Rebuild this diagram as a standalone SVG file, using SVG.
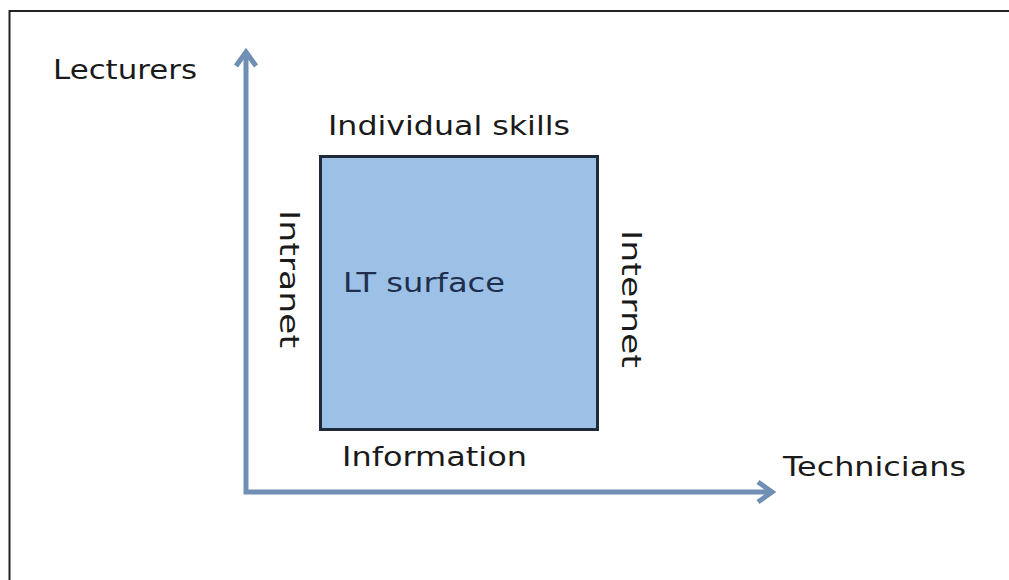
<svg xmlns="http://www.w3.org/2000/svg" width="1009" height="580" viewBox="0 0 1009 580">
<style>
.t{font-family:"DejaVu Sans","Verdana",sans-serif;font-size:26px;fill:#1a1a1a;}
.ax{stroke:#6f8fb5;stroke-width:5;fill:none;stroke-linecap:butt}
.ah{stroke:#6f8fb5;stroke-width:5;fill:none;stroke-linejoin:miter}
</style>
<rect x="0" y="0" width="1009" height="580" fill="#ffffff"/>
<rect x="9.5" y="11" width="1010" height="580" fill="none" stroke="#222" stroke-width="2"/>
<g id="connectors">
<path class="ax" d="M246,52 L246,492 L772,492"/>
<path class="ah" d="M236,66 L246,52 L256,66"/>
<path class="ah" d="M758,482 L772,492 L758,502"/>
</g>
<g id="square">
<rect x="320.5" y="156.5" width="277" height="273" fill="#9dc0e6" stroke="#1e2a3a" stroke-width="3"/>
<text class="t" x="343" y="292" style="fill:#1d2f4d" textLength="162" lengthAdjust="spacingAndGlyphs">LT surface</text>
</g>
<g id="lecturers"><text class="t" x="53" y="79" textLength="144" lengthAdjust="spacingAndGlyphs">Lecturers</text></g>
<g id="individual"><text class="t" x="328" y="135" textLength="242" lengthAdjust="spacingAndGlyphs">Individual skills</text></g>
<g id="information"><text class="t" x="342" y="466" textLength="185" lengthAdjust="spacingAndGlyphs">Information</text></g>
<g id="technicians"><text class="t" x="783" y="476" textLength="183" lengthAdjust="spacingAndGlyphs">Technicians</text></g>
<g id="intranet"><text class="t" transform="translate(280,210) rotate(90)" textLength="138" lengthAdjust="spacingAndGlyphs">Intranet</text></g>
<g id="internet"><text class="t" transform="translate(622,230) rotate(90)" textLength="138" lengthAdjust="spacingAndGlyphs">Internet</text></g>
</svg>
